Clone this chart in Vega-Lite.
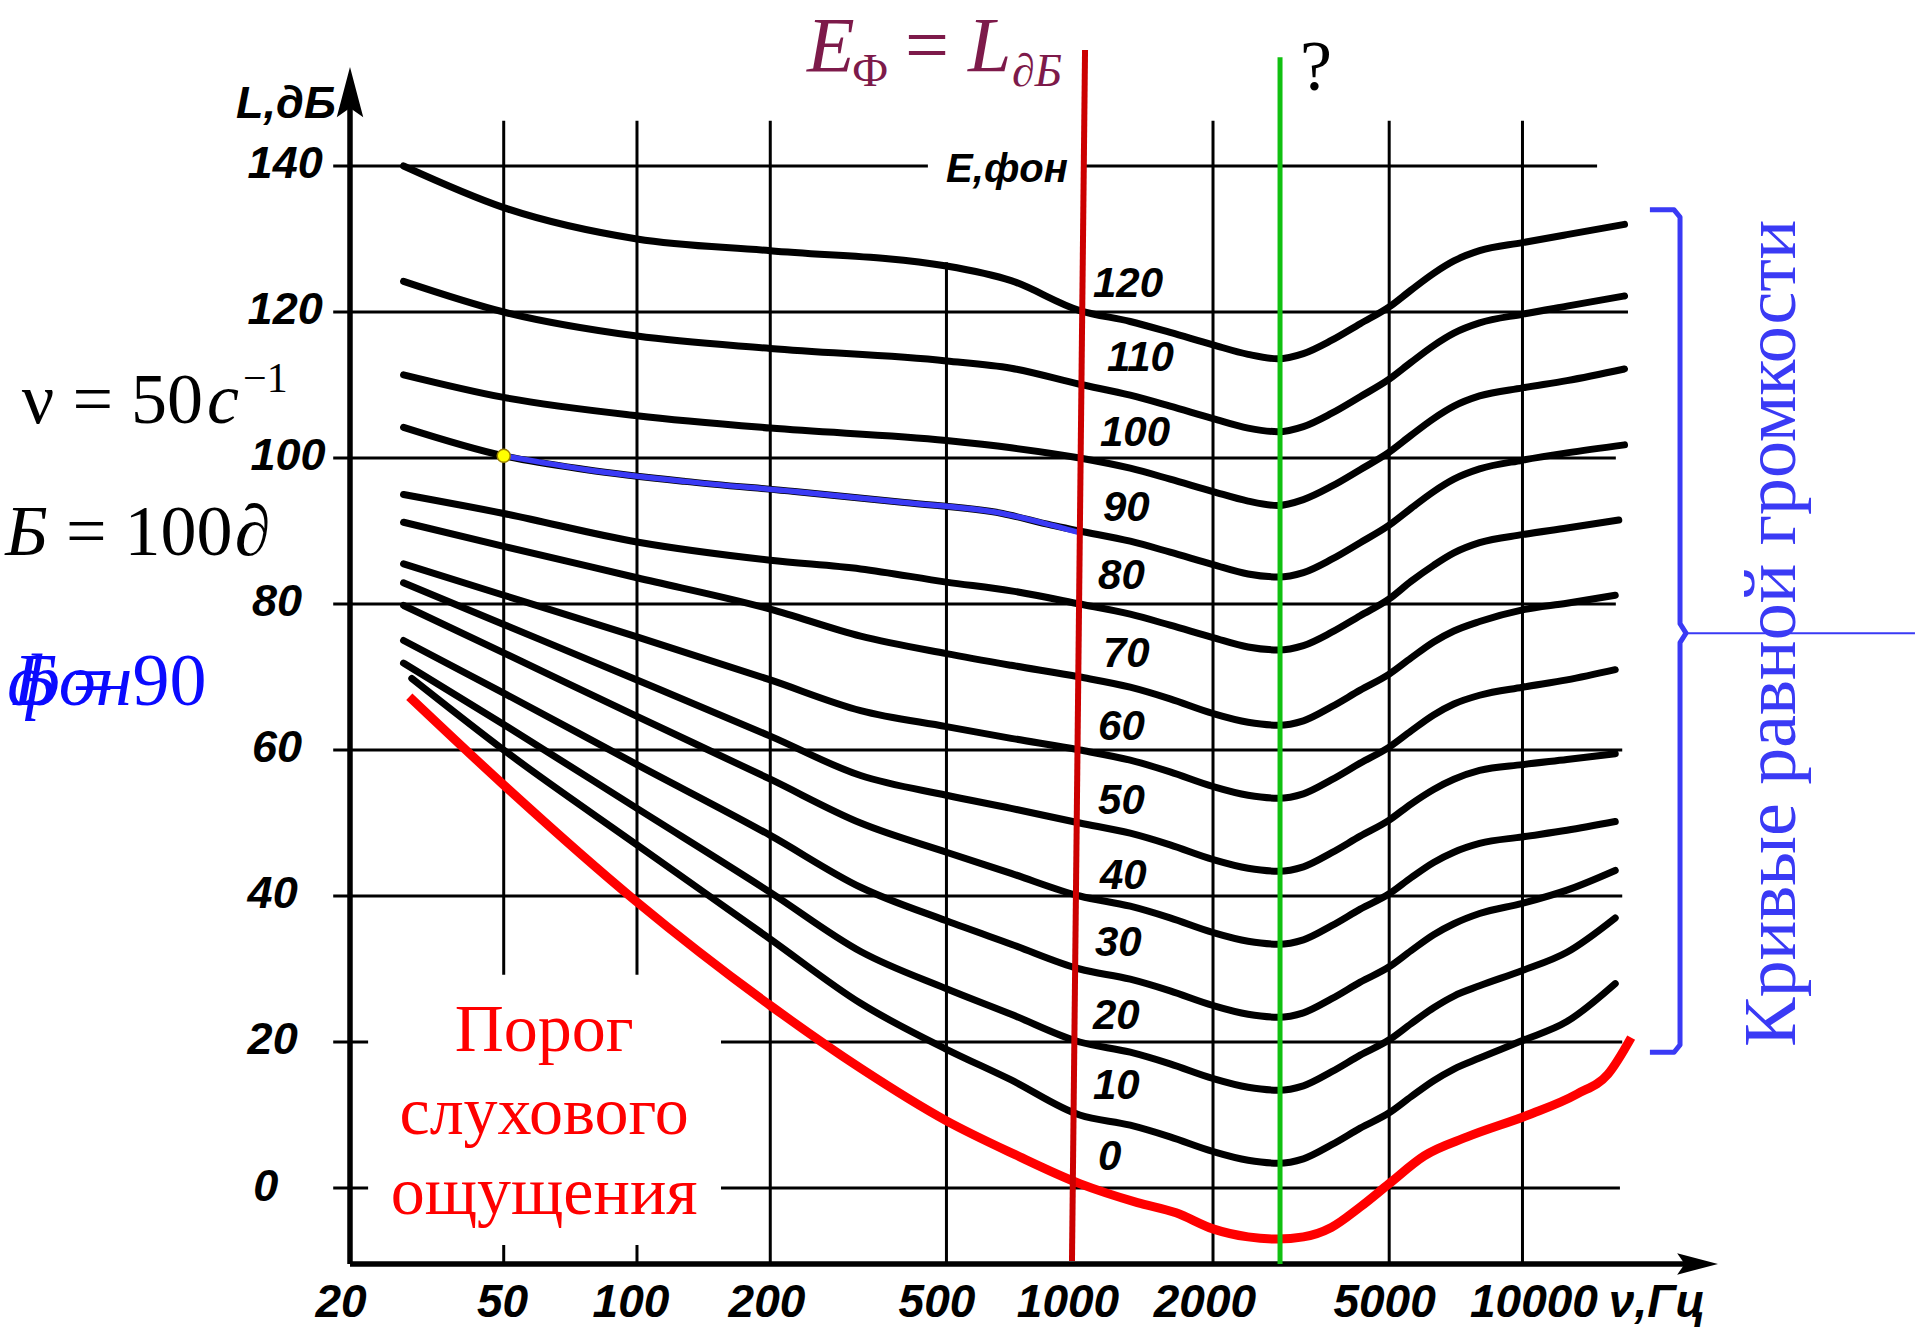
{
"$schema":"https://vega.github.io/schema/vega-lite/v6.json",
"width":1917,"height":1338,"autosize":{"type":"none"},"padding":0,"background":"white",
"config":{"view":{"stroke":null}},
"datasets":{
"curves":[
{"p":120,"f":29.7,"db":140},{"p":120,"f":50,"db":134.3},{"p":120,"f":100,"db":130},{"p":120,"f":200,"db":128.4},{"p":120,"f":500,"db":126.3},{"p":120,"f":700,"db":124.3},{"p":120,"f":1000,"db":120.2},{"p":120,"f":1300,"db":118.7},{"p":120,"f":1600,"db":117.2},{"p":120,"f":2000,"db":115.5},{"p":120,"f":2400,"db":114.2},{"p":120,"f":2800,"db":113.6},{"p":120,"f":3200,"db":114.3},{"p":120,"f":3700,"db":116.1},{"p":120,"f":4300,"db":118.4},{"p":120,"f":5000,"db":120.7},{"p":120,"f":5600,"db":123},{"p":120,"f":6300,"db":125.3},{"p":120,"f":7000,"db":127},{"p":120,"f":8000,"db":128.4},{"p":120,"f":10000,"db":129.5},{"p":120,"f":12600,"db":130.6},{"p":120,"f":17000,"db":132},
{"p":110,"f":29.7,"db":124.2},{"p":110,"f":50,"db":120},{"p":110,"f":100,"db":116.7},{"p":110,"f":200,"db":115},{"p":110,"f":500,"db":113.3},{"p":110,"f":700,"db":112.3},{"p":110,"f":1000,"db":110.1},{"p":110,"f":1300,"db":108.6},{"p":110,"f":1600,"db":107.1},{"p":110,"f":2000,"db":105.4},{"p":110,"f":2400,"db":104.1},{"p":110,"f":2800,"db":103.6},{"p":110,"f":3200,"db":104.3},{"p":110,"f":3700,"db":106.1},{"p":110,"f":4300,"db":108.4},{"p":110,"f":5000,"db":110.8},{"p":110,"f":5600,"db":113.1},{"p":110,"f":6300,"db":115.4},{"p":110,"f":7000,"db":117.1},{"p":110,"f":8000,"db":118.5},{"p":110,"f":10000,"db":119.7},{"p":110,"f":12600,"db":120.8},{"p":110,"f":17000,"db":122.2},
{"p":100,"f":29.7,"db":111.4},{"p":100,"f":50,"db":108.3},{"p":100,"f":100,"db":105.8},{"p":100,"f":200,"db":104.1},{"p":100,"f":500,"db":102.4},{"p":100,"f":700,"db":101.4},{"p":100,"f":1000,"db":100},{"p":100,"f":1300,"db":98.6},{"p":100,"f":1600,"db":97.1},{"p":100,"f":2000,"db":95.4},{"p":100,"f":2400,"db":94.1},{"p":100,"f":2800,"db":93.5},{"p":100,"f":3200,"db":94.3},{"p":100,"f":3700,"db":96.1},{"p":100,"f":4300,"db":98.4},{"p":100,"f":5000,"db":100.8},{"p":100,"f":5600,"db":103.1},{"p":100,"f":6300,"db":105.4},{"p":100,"f":7000,"db":107.1},{"p":100,"f":8000,"db":108.5},{"p":100,"f":10000,"db":109.6},{"p":100,"f":12600,"db":110.6},{"p":100,"f":17000,"db":112.2},
{"p":90,"f":29.7,"db":104.2},{"p":90,"f":50,"db":100.3},{"p":90,"f":77,"db":98.4},{"p":90,"f":128,"db":96.8},{"p":90,"f":227,"db":95.4},{"p":90,"f":402,"db":93.9},{"p":90,"f":669,"db":92.4},{"p":90,"f":863,"db":90.8},{"p":90,"f":1000,"db":90},{"p":90,"f":1300,"db":88.6},{"p":90,"f":1600,"db":87.1},{"p":90,"f":2000,"db":85.4},{"p":90,"f":2400,"db":84.1},{"p":90,"f":2800,"db":83.7},{"p":90,"f":3200,"db":84.3},{"p":90,"f":3700,"db":86.1},{"p":90,"f":4300,"db":88.4},{"p":90,"f":5000,"db":90.8},{"p":90,"f":5600,"db":93.1},{"p":90,"f":6300,"db":95.4},{"p":90,"f":7000,"db":97.1},{"p":90,"f":8000,"db":98.5},{"p":90,"f":10000,"db":99.7},{"p":90,"f":12600,"db":100.7},{"p":90,"f":17000,"db":101.8},
{"p":80,"f":29.7,"db":95},{"p":80,"f":50,"db":92.4},{"p":80,"f":100,"db":88.5},{"p":80,"f":200,"db":86},{"p":80,"f":320,"db":84.8},{"p":80,"f":500,"db":83},{"p":80,"f":700,"db":81.8},{"p":80,"f":1000,"db":80},{"p":80,"f":1300,"db":78.6},{"p":80,"f":1600,"db":77.1},{"p":80,"f":2000,"db":75.4},{"p":80,"f":2400,"db":74.1},{"p":80,"f":2800,"db":73.7},{"p":80,"f":3200,"db":74.3},{"p":80,"f":3700,"db":76.1},{"p":80,"f":4300,"db":78.4},{"p":80,"f":5000,"db":80.7},{"p":80,"f":5600,"db":83.1},{"p":80,"f":6300,"db":85.3},{"p":80,"f":7000,"db":87},{"p":80,"f":8000,"db":88.4},{"p":80,"f":10000,"db":89.5},{"p":80,"f":12600,"db":90.4},{"p":80,"f":16500,"db":91.5},
{"p":70,"f":29.7,"db":91.2},{"p":70,"f":50,"db":87.9},{"p":70,"f":100,"db":83.6},{"p":70,"f":200,"db":79.3},{"p":70,"f":320,"db":75.6},{"p":70,"f":500,"db":73.2},{"p":70,"f":700,"db":71.6},{"p":70,"f":1000,"db":70},{"p":70,"f":1300,"db":68.6},{"p":70,"f":1600,"db":67},{"p":70,"f":2000,"db":65},{"p":70,"f":2400,"db":63.8},{"p":70,"f":2800,"db":63.4},{"p":70,"f":3200,"db":64},{"p":70,"f":3700,"db":65.9},{"p":70,"f":4300,"db":68.2},{"p":70,"f":5000,"db":70.4},{"p":70,"f":5600,"db":72.6},{"p":70,"f":6300,"db":74.8},{"p":70,"f":7000,"db":76.3},{"p":70,"f":8000,"db":77.6},{"p":70,"f":10000,"db":79.2},{"p":70,"f":12600,"db":80.1},{"p":70,"f":16200,"db":81.2},
{"p":60,"f":29.7,"db":85.5},{"p":60,"f":50,"db":81.2},{"p":60,"f":100,"db":75.5},{"p":60,"f":200,"db":69.6},{"p":60,"f":320,"db":65.4},{"p":60,"f":500,"db":63.2},{"p":60,"f":700,"db":61.6},{"p":60,"f":1000,"db":60},{"p":60,"f":1300,"db":58.6},{"p":60,"f":1600,"db":57},{"p":60,"f":2000,"db":55},{"p":60,"f":2400,"db":53.8},{"p":60,"f":2800,"db":53.4},{"p":60,"f":3200,"db":54},{"p":60,"f":3700,"db":55.9},{"p":60,"f":4300,"db":58.2},{"p":60,"f":5000,"db":60.4},{"p":60,"f":5600,"db":62.6},{"p":60,"f":6300,"db":64.8},{"p":60,"f":7000,"db":66.3},{"p":60,"f":8000,"db":67.5},{"p":60,"f":10000,"db":68.6},{"p":60,"f":12600,"db":69.6},{"p":60,"f":16200,"db":71},
{"p":50,"f":29.7,"db":82.9},{"p":50,"f":50,"db":77.2},{"p":50,"f":100,"db":69.6},{"p":50,"f":200,"db":61.9},{"p":50,"f":320,"db":56.5},{"p":50,"f":500,"db":53.8},{"p":50,"f":700,"db":52},{"p":50,"f":1000,"db":50},{"p":50,"f":1300,"db":48.6},{"p":50,"f":1600,"db":47},{"p":50,"f":2000,"db":45},{"p":50,"f":2400,"db":43.8},{"p":50,"f":2800,"db":43.4},{"p":50,"f":3200,"db":44},{"p":50,"f":3700,"db":45.9},{"p":50,"f":4300,"db":48.2},{"p":50,"f":5000,"db":50.4},{"p":50,"f":5600,"db":52.6},{"p":50,"f":6300,"db":54.6},{"p":50,"f":7000,"db":56},{"p":50,"f":8000,"db":57.2},{"p":50,"f":10000,"db":58},{"p":50,"f":12600,"db":58.7},{"p":50,"f":16200,"db":59.5},
{"p":40,"f":29.7,"db":79.8},{"p":40,"f":50,"db":73.3},{"p":40,"f":100,"db":64.6},{"p":40,"f":200,"db":56},{"p":40,"f":320,"db":50},{"p":40,"f":500,"db":46},{"p":40,"f":700,"db":43.1},{"p":40,"f":1000,"db":40},{"p":40,"f":1300,"db":38.6},{"p":40,"f":1600,"db":37},{"p":40,"f":2000,"db":35},{"p":40,"f":2400,"db":33.8},{"p":40,"f":2800,"db":33.4},{"p":40,"f":3200,"db":34},{"p":40,"f":3700,"db":35.9},{"p":40,"f":4300,"db":38.2},{"p":40,"f":5000,"db":40.3},{"p":40,"f":5600,"db":42.5},{"p":40,"f":6300,"db":44.6},{"p":40,"f":7000,"db":46},{"p":40,"f":8000,"db":47.2},{"p":40,"f":10000,"db":48.1},{"p":40,"f":12600,"db":49},{"p":40,"f":16200,"db":50.2},
{"p":30,"f":29.7,"db":75},{"p":30,"f":50,"db":67.8},{"p":30,"f":100,"db":58},{"p":30,"f":200,"db":48.3},{"p":30,"f":320,"db":41.2},{"p":30,"f":500,"db":36.6},{"p":30,"f":700,"db":33.4},{"p":30,"f":1000,"db":30},{"p":30,"f":1300,"db":28.6},{"p":30,"f":1600,"db":27},{"p":30,"f":2000,"db":25},{"p":30,"f":2400,"db":23.8},{"p":30,"f":2800,"db":23.4},{"p":30,"f":3200,"db":24},{"p":30,"f":3700,"db":25.9},{"p":30,"f":4300,"db":28.2},{"p":30,"f":5000,"db":30.3},{"p":30,"f":5600,"db":32.5},{"p":30,"f":6300,"db":34.7},{"p":30,"f":7000,"db":36.2},{"p":30,"f":8000,"db":37.6},{"p":30,"f":10000,"db":39},{"p":30,"f":12600,"db":40.8},{"p":30,"f":16200,"db":43.5},
{"p":20,"f":29.7,"db":71.9},{"p":20,"f":50,"db":63.5},{"p":20,"f":100,"db":52},{"p":20,"f":200,"db":40.5},{"p":20,"f":320,"db":32.4},{"p":20,"f":500,"db":27.3},{"p":20,"f":700,"db":23.8},{"p":20,"f":1000,"db":20},{"p":20,"f":1300,"db":18.6},{"p":20,"f":1600,"db":17},{"p":20,"f":2000,"db":15},{"p":20,"f":2400,"db":13.8},{"p":20,"f":2800,"db":13.4},{"p":20,"f":3200,"db":14},{"p":20,"f":3700,"db":15.9},{"p":20,"f":4300,"db":18.2},{"p":20,"f":5000,"db":20.3},{"p":20,"f":5600,"db":22.5},{"p":20,"f":6300,"db":24.7},{"p":20,"f":7000,"db":26.3},{"p":20,"f":8000,"db":27.7},{"p":20,"f":10000,"db":29.8},{"p":20,"f":12600,"db":32.3},{"p":20,"f":16200,"db":37},
{"p":10,"f":31,"db":69.8},{"p":10,"f":50,"db":60},{"p":10,"f":100,"db":47},{"p":10,"f":200,"db":34.1},{"p":10,"f":320,"db":25.3},{"p":10,"f":500,"db":19},{"p":10,"f":700,"db":14.8},{"p":10,"f":1000,"db":10},{"p":10,"f":1300,"db":8.6},{"p":10,"f":1600,"db":7},{"p":10,"f":2000,"db":5},{"p":10,"f":2400,"db":3.8},{"p":10,"f":2800,"db":3.4},{"p":10,"f":3200,"db":4},{"p":10,"f":3700,"db":5.9},{"p":10,"f":4300,"db":8.2},{"p":10,"f":5000,"db":10.3},{"p":10,"f":5600,"db":12.5},{"p":10,"f":6300,"db":14.7},{"p":10,"f":7000,"db":16.3},{"p":10,"f":8000,"db":17.8},{"p":10,"f":10000,"db":20.2},{"p":10,"f":12600,"db":22.8},{"p":10,"f":16200,"db":28}
],
"thr":[
{"f":30.6,"db":67.3},{"f":49.4,"db":55.5},{"f":99.4,"db":39.3},{"f":200,"db":25},{"f":320,"db":16.4},{"f":500,"db":9.2},{"f":713,"db":4.6},{"f":1000,"db":0.6},{"f":1350,"db":-2},{"f":1650,"db":-3.4},{"f":2000,"db":-5.6},{"f":2400,"db":-6.7},{"f":2800,"db":-7},{"f":3200,"db":-6.7},{"f":3700,"db":-5.4},{"f":4300,"db":-2.6},{"f":5000,"db":0.6},{"f":6000,"db":4.4},{"f":7500,"db":7},{"f":10300,"db":10},{"f":13300,"db":12.9},{"f":15600,"db":15.6},{"f":17600,"db":20.6}
],
"blue":[
{"f":50,"db":100.3},{"f":77,"db":98.4},{"f":128,"db":96.8},{"f":227,"db":95.4},{"f":402,"db":93.9},{"f":669,"db":92.4},{"f":863,"db":90.8},{"f":995,"db":89.8}
],
"hgrid":[
{"db":140,"f1":20.6,"f2":14740},{"db":120,"f1":20.6,"f2":17310},{"db":100,"f1":20.6,"f2":16250},{"db":80,"f1":20.6,"f2":16250},{"db":60,"f1":20.6,"f2":16800},{"db":40,"f1":20.6,"f2":16800},{"db":20,"f1":20.6,"f2":16800},{"db":0,"f1":20.6,"f2":16600}
],
"vgrid":[
{"f":50,"db1":-10.4,"db2":146.2},{"f":100,"db1":-10.4,"db2":146.2},{"f":200,"db1":-10.4,"db2":146.2},{"f":500,"db1":-10.4,"db2":146.2},{"f":2000,"db1":-10.4,"db2":146.2},{"f":5000,"db1":-10.4,"db2":146.2},{"f":10000,"db1":-10.4,"db2":146.2}
],
"masks":[
{"f1":24.7,"f2":154.8,"db1":-7.8,"db2":29.2},{"f1":454,"f2":1030,"db1":126.8,"db2":148}
],
"axes":[
{"f1":22.48,"f2":22.48,"db1":-10.4,"db2":151},{"f1":22.48,"f2":26000,"db1":-10.4,"db2":-10.4}
],
"vlines":[
{"name":"red","f1":1028,"f2":960.5,"db1":155.9,"db2":-10},{"name":"green","f1":2834,"f2":2834,"db1":154.9,"db2":-10.4}
],
"arrows":[
{"dir":"up","f":22.48,"db":149.93},{"dir":"right","f":24720,"db":-10.4}
],
"dot":[{"f":50,"db":100.3}],
"brace":[
{"i":1,"f":19400,"db":134},{"i":2,"f":22000,"db":134},{"i":3,"f":22690,"db":133},{"i":4,"f":22690,"db":77.3},{"i":5,"f":23410,"db":76},{"i":6,"f":22690,"db":74.7},{"i":7,"f":22690,"db":19.6},{"i":8,"f":22000,"db":18.6},{"i":9,"f":19400,"db":18.6}
],
"pointer":[{"f1":23410,"f2":77000,"db":76}],
"texts":[
{"g":"ytick","t":"140","f":13.2,"db":140.3},{"g":"ytick","t":"120","f":13.2,"db":120.3},{"g":"ytick","t":"100","f":13.4,"db":100.3},{"g":"ytick","t":"80","f":13.5,"db":80.3},{"g":"ytick","t":"60","f":13.5,"db":60.3},{"g":"ytick","t":"40","f":13.2,"db":40.3},{"g":"ytick","t":"20","f":13.2,"db":20.3},{"g":"ytick","t":"0","f":13.6,"db":0.2},
{"g":"ytick","t":"L,дБ","f":12.43,"db":148.5},
{"g":"xtick","t":"20","f":21.45,"db":-15.7},{"g":"xtick","t":"50","f":49.7,"db":-15.7},{"g":"xtick","t":"100","f":96.9,"db":-15.7},{"g":"xtick","t":"200","f":196.6,"db":-15.7},{"g":"xtick","t":"500","f":476,"db":-15.7},{"g":"xtick","t":"1000","f":941,"db":-15.7},{"g":"xtick","t":"2000","f":1918,"db":-15.7},{"g":"xtick","t":"5000","f":4881,"db":-15.7},{"g":"xtick","t":"10000","f":10617,"db":-15.7},{"g":"xtick","t":"ν,Гц","f":20130,"db":-15.7},
{"g":"elab","t":"E,фон","f":685,"db":139.5},
{"g":"clab","t":"120","f":1071,"db":123.8},{"g":"clab","t":"110","f":1152,"db":113.7},{"g":"clab","t":"100","f":1111,"db":103.4},{"g":"clab","t":"90","f":1128,"db":93.1},{"g":"clab","t":"80","f":1100,"db":83.8},{"g":"clab","t":"70","f":1128,"db":73.2},{"g":"clab","t":"60","f":1100,"db":63.2},{"g":"clab","t":"50","f":1100,"db":53},{"g":"clab","t":"40","f":1111,"db":42.8},{"g":"clab","t":"30","f":1082,"db":33.6},{"g":"clab","t":"20","f":1071,"db":23.6},{"g":"clab","t":"10","f":1071,"db":14},{"g":"clab","t":"0","f":1100,"db":4.2},
{"g":"mI","t":"E","f":242.1,"db":153},{"g":"mI","t":"L","f":559,"db":153},{"g":"mU","t":"=","f":403,"db":153},
{"g":"mSubU","t":"Ф","f":306,"db":151},{"g":"mSubI","t":"∂Б","f":703,"db":151},
{"g":"kU","t":"ν = 50","f":4.08,"db":104.8},{"g":"kI","t":"c","f":10.69,"db":104.8},{"g":"kSup","t":"−1","f":12.89,"db":109},
{"g":"kI","t":"Б","f":3.74,"db":86.7},{"g":"kU","t":"= 100","f":5.13,"db":86.7},{"g":"kI","t":"∂","f":12.35,"db":86.7},
{"g":"kU","t":"?","f":3145,"db":150.4},
{"g":"bI","t":"Б","f":3.9,"db":66.2},{"g":"bI","t":"фон","f":3.78,"db":66.2},{"g":"bU","t":"= 90","f":5.3,"db":66.2},
{"g":"rU","t":"Порог","f":61.7,"db":18.8},{"g":"rU","t":"слухового","f":61.7,"db":7.4},{"g":"rU","t":"ощущения","f":61.7,"db":-3.6},
{"g":"vert","t":"Кривые равной громкости","f":41260,"db":76}
]
},
"layer":[
{"data":{"name":"hgrid"},"mark":{"type":"rule","color":"black","strokeWidth":3},
 "encoding":{"x":{"field":"f1","type":"quantitative","scale":{"type":"log","domain":[3.6415,77818],"nice":false},"axis":null},"x2":{"field":"f2"},
 "y":{"field":"db","type":"quantitative","scale":{"domain":[-20.548,162.74],"nice":false,"zero":false},"axis":null}}},
{"data":{"name":"vgrid"},"mark":{"type":"rule","color":"black","strokeWidth":3},
 "encoding":{"x":{"field":"f","type":"quantitative","scale":{"type":"log","domain":[3.6415,77818],"nice":false},"axis":null},
 "y":{"field":"db1","type":"quantitative","scale":{"domain":[-20.548,162.74],"nice":false,"zero":false},"axis":null},"y2":{"field":"db2"}}},
{"data":{"name":"masks"},"mark":{"type":"rect","color":"white"},
 "encoding":{"x":{"field":"f1","type":"quantitative","scale":{"type":"log","domain":[3.6415,77818],"nice":false},"axis":null},"x2":{"field":"f2"},
 "y":{"field":"db1","type":"quantitative","scale":{"domain":[-20.548,162.74],"nice":false,"zero":false},"axis":null},"y2":{"field":"db2"}}},
{"data":{"name":"axes"},"mark":{"type":"rule","color":"black","strokeWidth":5.5},
 "encoding":{"x":{"field":"f1","type":"quantitative","scale":{"type":"log","domain":[3.6415,77818],"nice":false},"axis":null},"x2":{"field":"f2"},
 "y":{"field":"db1","type":"quantitative","scale":{"domain":[-20.548,162.74],"nice":false,"zero":false},"axis":null},"y2":{"field":"db2"}}},
{"data":{"name":"arrows"},"transform":[{"filter":"datum.dir == 'up'"}],"mark":{"type":"point","shape":"M0,-1L0.5,0.9L0,0.55L-0.5,0.9Z","size":2809,"filled":true,"color":"black","opacity":1},
 "encoding":{"x":{"field":"f","type":"quantitative","scale":{"type":"log","domain":[3.6415,77818],"nice":false},"axis":null},
 "y":{"field":"db","type":"quantitative","scale":{"domain":[-20.548,162.74],"nice":false,"zero":false},"axis":null}}},
{"data":{"name":"arrows"},"transform":[{"filter":"datum.dir == 'right'"}],"mark":{"type":"point","shape":"M1,0L-0.9,0.5L-0.55,0L-0.9,-0.5Z","size":1849,"filled":true,"color":"black","opacity":1},
 "encoding":{"x":{"field":"f","type":"quantitative","scale":{"type":"log","domain":[3.6415,77818],"nice":false},"axis":null},
 "y":{"field":"db","type":"quantitative","scale":{"domain":[-20.548,162.74],"nice":false,"zero":false},"axis":null}}},
{"data":{"name":"curves"},"mark":{"type":"line","color":"black","strokeWidth":7,"interpolate":"monotone","strokeCap":"round"},
 "encoding":{"x":{"field":"f","type":"quantitative","scale":{"type":"log","domain":[3.6415,77818],"nice":false},"axis":null},
 "y":{"field":"db","type":"quantitative","scale":{"domain":[-20.548,162.74],"nice":false,"zero":false},"axis":null},"detail":{"field":"p","type":"nominal"}}},
{"data":{"name":"thr"},"mark":{"type":"line","color":"#ff0000","strokeWidth":9,"interpolate":"monotone","strokeCap":"butt"},
 "encoding":{"x":{"field":"f","type":"quantitative","scale":{"type":"log","domain":[3.6415,77818],"nice":false},"axis":null},
 "y":{"field":"db","type":"quantitative","scale":{"domain":[-20.548,162.74],"nice":false,"zero":false},"axis":null}}},
{"data":{"name":"blue"},"mark":{"type":"line","color":"#3a3af5","strokeWidth":5.5,"interpolate":"monotone"},
 "encoding":{"x":{"field":"f","type":"quantitative","scale":{"type":"log","domain":[3.6415,77818],"nice":false},"axis":null},
 "y":{"field":"db","type":"quantitative","scale":{"domain":[-20.548,162.74],"nice":false,"zero":false},"axis":null}}},
{"data":{"name":"dot"},"mark":{"type":"point","shape":"circle","size":170,"filled":true,"color":"#ffff00","stroke":"#9a8000","strokeWidth":1.5,"opacity":1},
 "encoding":{"x":{"field":"f","type":"quantitative","scale":{"type":"log","domain":[3.6415,77818],"nice":false},"axis":null},
 "y":{"field":"db","type":"quantitative","scale":{"domain":[-20.548,162.74],"nice":false,"zero":false},"axis":null}}},
{"data":{"name":"vlines"},"transform":[{"filter":"datum.name == 'red'"}],"mark":{"type":"rule","color":"#cc0000","strokeWidth":6},
 "encoding":{"x":{"field":"f1","type":"quantitative","scale":{"type":"log","domain":[3.6415,77818],"nice":false},"axis":null},"x2":{"field":"f2"},
 "y":{"field":"db1","type":"quantitative","scale":{"domain":[-20.548,162.74],"nice":false,"zero":false},"axis":null},"y2":{"field":"db2"}}},
{"data":{"name":"vlines"},"transform":[{"filter":"datum.name == 'green'"}],"mark":{"type":"rule","color":"#11c011","strokeWidth":5},
 "encoding":{"x":{"field":"f1","type":"quantitative","scale":{"type":"log","domain":[3.6415,77818],"nice":false},"axis":null},"x2":{"field":"f2"},
 "y":{"field":"db1","type":"quantitative","scale":{"domain":[-20.548,162.74],"nice":false,"zero":false},"axis":null},"y2":{"field":"db2"}}},
{"data":{"name":"brace"},"mark":{"type":"line","color":"#3a3af5","strokeWidth":5,"interpolate":"linear","strokeJoin":"round"},
 "encoding":{"x":{"field":"f","type":"quantitative","scale":{"type":"log","domain":[3.6415,77818],"nice":false},"axis":null},
 "y":{"field":"db","type":"quantitative","scale":{"domain":[-20.548,162.74],"nice":false,"zero":false},"axis":null},"order":{"field":"i","type":"quantitative"}}},
{"data":{"name":"pointer"},"mark":{"type":"rule","color":"#3a3af5","strokeWidth":2},
 "encoding":{"x":{"field":"f1","type":"quantitative","scale":{"type":"log","domain":[3.6415,77818],"nice":false},"axis":null},"x2":{"field":"f2"},
 "y":{"field":"db","type":"quantitative","scale":{"domain":[-20.548,162.74],"nice":false,"zero":false},"axis":null}}},
{"data":{"name":"texts"},"transform":[{"filter":"datum.g == 'ytick'"}],"mark":{"type":"text","align":"left","baseline":"middle","font":"Liberation Sans","fontSize":45,"fontStyle":"italic","fontWeight":"bold","color":"black"},
 "encoding":{"x":{"field":"f","type":"quantitative","scale":{"type":"log","domain":[3.6415,77818],"nice":false},"axis":null},
 "y":{"field":"db","type":"quantitative","scale":{"domain":[-20.548,162.74],"nice":false,"zero":false},"axis":null},"text":{"field":"t"}}},
{"data":{"name":"texts"},"transform":[{"filter":"datum.g == 'xtick'"}],"mark":{"type":"text","align":"center","baseline":"middle","font":"Liberation Sans","fontSize":46,"fontStyle":"italic","fontWeight":"bold","color":"black"},
 "encoding":{"x":{"field":"f","type":"quantitative","scale":{"type":"log","domain":[3.6415,77818],"nice":false},"axis":null},
 "y":{"field":"db","type":"quantitative","scale":{"domain":[-20.548,162.74],"nice":false,"zero":false},"axis":null},"text":{"field":"t"}}},
{"data":{"name":"texts"},"transform":[{"filter":"datum.g == 'elab'"}],"mark":{"type":"text","align":"center","baseline":"middle","font":"Liberation Sans","fontSize":40,"fontStyle":"italic","fontWeight":"bold","color":"black"},
 "encoding":{"x":{"field":"f","type":"quantitative","scale":{"type":"log","domain":[3.6415,77818],"nice":false},"axis":null},
 "y":{"field":"db","type":"quantitative","scale":{"domain":[-20.548,162.74],"nice":false,"zero":false},"axis":null},"text":{"field":"t"}}},
{"data":{"name":"texts"},"transform":[{"filter":"datum.g == 'clab'"}],"mark":{"type":"text","align":"left","baseline":"middle","font":"Liberation Sans","fontSize":42,"fontStyle":"italic","fontWeight":"bold","color":"black"},
 "encoding":{"x":{"field":"f","type":"quantitative","scale":{"type":"log","domain":[3.6415,77818],"nice":false},"axis":null},
 "y":{"field":"db","type":"quantitative","scale":{"domain":[-20.548,162.74],"nice":false,"zero":false},"axis":null},"text":{"field":"t"}}},
{"data":{"name":"texts"},"transform":[{"filter":"datum.g == 'mI'"}],"mark":{"type":"text","align":"left","baseline":"alphabetic","font":"Liberation Serif, Times New Roman, serif","fontSize":78,"fontStyle":"italic","color":"#7d1a4a"},
 "encoding":{"x":{"field":"f","type":"quantitative","scale":{"type":"log","domain":[3.6415,77818],"nice":false},"axis":null},
 "y":{"field":"db","type":"quantitative","scale":{"domain":[-20.548,162.74],"nice":false,"zero":false},"axis":null},"text":{"field":"t"}}},
{"data":{"name":"texts"},"transform":[{"filter":"datum.g == 'mU'"}],"mark":{"type":"text","align":"left","baseline":"alphabetic","font":"Liberation Serif, Times New Roman, serif","fontSize":78,"color":"#7d1a4a"},
 "encoding":{"x":{"field":"f","type":"quantitative","scale":{"type":"log","domain":[3.6415,77818],"nice":false},"axis":null},
 "y":{"field":"db","type":"quantitative","scale":{"domain":[-20.548,162.74],"nice":false,"zero":false},"axis":null},"text":{"field":"t"}}},
{"data":{"name":"texts"},"transform":[{"filter":"datum.g == 'mSubU'"}],"mark":{"type":"text","align":"left","baseline":"alphabetic","font":"Liberation Serif, Times New Roman, serif","fontSize":46,"color":"#7d1a4a"},
 "encoding":{"x":{"field":"f","type":"quantitative","scale":{"type":"log","domain":[3.6415,77818],"nice":false},"axis":null},
 "y":{"field":"db","type":"quantitative","scale":{"domain":[-20.548,162.74],"nice":false,"zero":false},"axis":null},"text":{"field":"t"}}},
{"data":{"name":"texts"},"transform":[{"filter":"datum.g == 'mSubI'"}],"mark":{"type":"text","align":"left","baseline":"alphabetic","font":"Liberation Serif, Times New Roman, serif","fontSize":46,"fontStyle":"italic","color":"#7d1a4a"},
 "encoding":{"x":{"field":"f","type":"quantitative","scale":{"type":"log","domain":[3.6415,77818],"nice":false},"axis":null},
 "y":{"field":"db","type":"quantitative","scale":{"domain":[-20.548,162.74],"nice":false,"zero":false},"axis":null},"text":{"field":"t"}}},
{"data":{"name":"texts"},"transform":[{"filter":"datum.g == 'kU'"}],"mark":{"type":"text","align":"left","baseline":"alphabetic","font":"Liberation Serif, Times New Roman, serif","fontSize":72,"color":"black"},
 "encoding":{"x":{"field":"f","type":"quantitative","scale":{"type":"log","domain":[3.6415,77818],"nice":false},"axis":null},
 "y":{"field":"db","type":"quantitative","scale":{"domain":[-20.548,162.74],"nice":false,"zero":false},"axis":null},"text":{"field":"t"}}},
{"data":{"name":"texts"},"transform":[{"filter":"datum.g == 'kI'"}],"mark":{"type":"text","align":"left","baseline":"alphabetic","font":"Liberation Serif, Times New Roman, serif","fontSize":72,"fontStyle":"italic","color":"black"},
 "encoding":{"x":{"field":"f","type":"quantitative","scale":{"type":"log","domain":[3.6415,77818],"nice":false},"axis":null},
 "y":{"field":"db","type":"quantitative","scale":{"domain":[-20.548,162.74],"nice":false,"zero":false},"axis":null},"text":{"field":"t"}}},
{"data":{"name":"texts"},"transform":[{"filter":"datum.g == 'kSup'"}],"mark":{"type":"text","align":"left","baseline":"alphabetic","font":"Liberation Serif, Times New Roman, serif","fontSize":42,"color":"black"},
 "encoding":{"x":{"field":"f","type":"quantitative","scale":{"type":"log","domain":[3.6415,77818],"nice":false},"axis":null},
 "y":{"field":"db","type":"quantitative","scale":{"domain":[-20.548,162.74],"nice":false,"zero":false},"axis":null},"text":{"field":"t"}}},
{"data":{"name":"texts"},"transform":[{"filter":"datum.g == 'bI'"}],"mark":{"type":"text","align":"left","baseline":"alphabetic","font":"Liberation Serif, Times New Roman, serif","fontSize":74,"fontStyle":"italic","color":"#0a0aff"},
 "encoding":{"x":{"field":"f","type":"quantitative","scale":{"type":"log","domain":[3.6415,77818],"nice":false},"axis":null},
 "y":{"field":"db","type":"quantitative","scale":{"domain":[-20.548,162.74],"nice":false,"zero":false},"axis":null},"text":{"field":"t"}}},
{"data":{"name":"texts"},"transform":[{"filter":"datum.g == 'bU'"}],"mark":{"type":"text","align":"left","baseline":"alphabetic","font":"Liberation Serif, Times New Roman, serif","fontSize":74,"color":"#0a0aff"},
 "encoding":{"x":{"field":"f","type":"quantitative","scale":{"type":"log","domain":[3.6415,77818],"nice":false},"axis":null},
 "y":{"field":"db","type":"quantitative","scale":{"domain":[-20.548,162.74],"nice":false,"zero":false},"axis":null},"text":{"field":"t"}}},
{"data":{"name":"texts"},"transform":[{"filter":"datum.g == 'rU'"}],"mark":{"type":"text","align":"center","baseline":"alphabetic","font":"Liberation Serif, Times New Roman, serif","fontSize":68,"color":"#ff0000"},
 "encoding":{"x":{"field":"f","type":"quantitative","scale":{"type":"log","domain":[3.6415,77818],"nice":false},"axis":null},
 "y":{"field":"db","type":"quantitative","scale":{"domain":[-20.548,162.74],"nice":false,"zero":false},"axis":null},"text":{"field":"t"}}},
{"data":{"name":"texts"},"transform":[{"filter":"datum.g == 'vert'"}],"mark":{"type":"text","align":"center","baseline":"alphabetic","angle":270,"font":"Liberation Serif, Times New Roman, serif","fontSize":74,"color":"#3a3af5"},
 "encoding":{"x":{"field":"f","type":"quantitative","scale":{"type":"log","domain":[3.6415,77818],"nice":false},"axis":null},
 "y":{"field":"db","type":"quantitative","scale":{"domain":[-20.548,162.74],"nice":false,"zero":false},"axis":null},"text":{"field":"t"}}}
]
}
